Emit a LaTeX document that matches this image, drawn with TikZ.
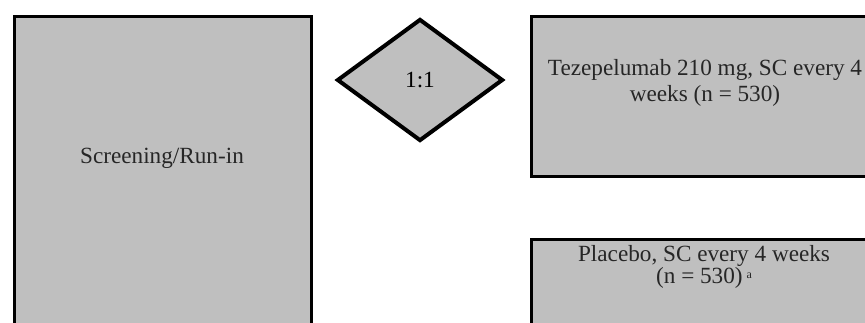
\documentclass[tikz,border=0pt]{standalone}
\usepackage{fontspec}
\setmainfont{Liberation Serif}
\usetikzlibrary{shapes.geometric}
\definecolor{boxgray}{RGB}{191,191,191}
\tikzset{
  panel/.style={draw=black, fill=boxgray, line width=1.5pt, rectangle, inner sep=0pt, anchor=north west},
  ratio/.style={draw=black, fill=boxgray, line width=2pt, diamond, inner sep=0pt,
                minimum width=83pt, minimum height=61pt, font=\fontsize{11.6}{14}\selectfont},
  caption/.style={align=center, inner sep=0pt, text=black!85},
}
\begin{document}
\begin{tikzpicture}[x=0.5pt, y=-0.5pt]
  \useasboundingbox (0,0) rectangle (865,322);
  \clip (0,0) rectangle (865,322);
  % screening period
  \node[panel, minimum width=148.75pt, minimum height=200pt] (screen) at (12.5,15) {};
  \node[caption, anchor=base, font=\fontsize{11.6}{14}\selectfont] (screentxt) at (162,163) {Screening/Run-in};
  % randomisation
  \node[ratio] (rand) at (420,80) {1:1};
  % treatment arms (the base anchor sits on the last line of each caption)
  \node[panel, minimum width=180pt, minimum height=80.15pt] (teze) at (530,14.7) {};
  \node[caption, anchor=base, font=\fontsize{11.6}{12.9}\selectfont] (tezetxt) at (705,101.7)
    {Tezepelumab 210 mg, SC every 4\\weeks (n = 530)};
  \node[panel, minimum width=180pt, minimum height=80pt] (plac) at (530,238) {};
  \node[caption, anchor=base, font=\fontsize{11.6}{11}\selectfont] (plactxt) at (704,283.5)
    {Placebo, SC every 4 weeks\\(n = 530)\,\raisebox{0.45ex}{\fontsize{6}{6}\selectfont a}};
\end{tikzpicture}
\end{document}
